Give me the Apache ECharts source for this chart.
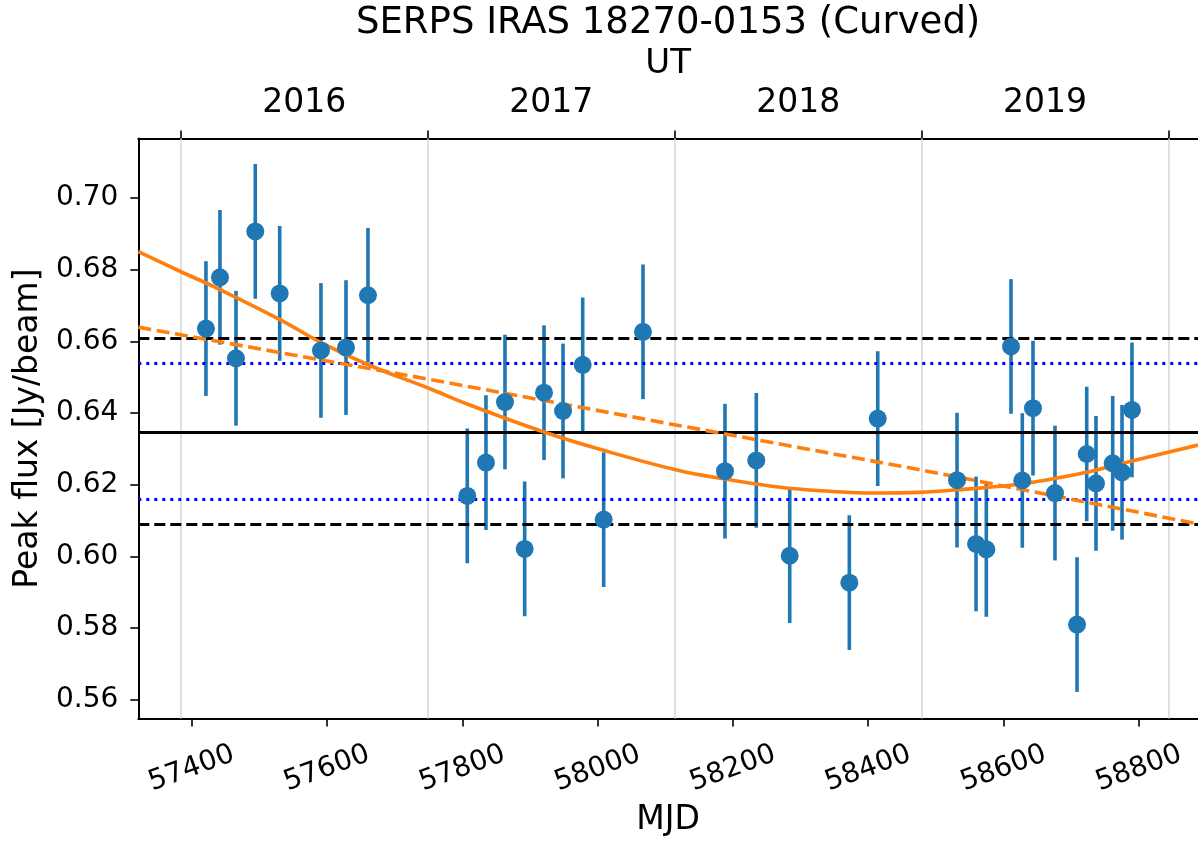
<!DOCTYPE html>
<html>
<head>
<meta charset="utf-8">
<script src="https://cdn.jsdelivr.net/npm/echarts@6/dist/echarts.min.js"></script>
<style>
html,body{margin:0;padding:0;background:#fff;}
#chart{width:1198px;height:842px;}
</style>
</head>
<body>
<div id="chart"></div>
<script>
// ---- data ----
const mjd = [57421.1, 57441.8, 57465.5, 57494.0, 57530.1, 57591.1, 57628.1, 57660.6,
  57807.4, 57835.0, 57863.1, 57892.2, 57920.8, 57948.9, 57978.0, 58009.0, 58067.1,
  58188.3, 58234.6, 58284.0, 58372.1, 58414.1,
  58531.3, 58559.4, 58574.6, 58611.1, 58627.8, 58643.6, 58676.1, 58708.7, 58723.0,
  58736.7, 58761.4, 58775.2, 58789.9];
const flux = [0.6636, 0.6779, 0.6553, 0.6907, 0.6734, 0.6575, 0.6583, 0.6729,
  0.6169, 0.6262, 0.6431, 0.6021, 0.6457, 0.6406, 0.6535, 0.6103, 0.6627,
  0.6238, 0.6268, 0.6002, 0.5927, 0.6385,
  0.6213, 0.6035, 0.6020, 0.6586, 0.6212, 0.6414, 0.6177, 0.5810, 0.6286,
  0.6204, 0.6260, 0.6235, 0.6409];
const fluxErr = [0.0188, 0.0188, 0.0188, 0.0188, 0.0188, 0.0188, 0.0188, 0.0188,
  0.0188, 0.0188, 0.0188, 0.0188, 0.0188, 0.0188, 0.0188, 0.0188, 0.0188,
  0.0188, 0.0188, 0.0188, 0.0188, 0.0188,
  0.0188, 0.0188, 0.0188, 0.0188, 0.0188, 0.0188, 0.0188, 0.0188, 0.0188,
  0.0188, 0.0188, 0.0188, 0.0188];

// curved fit (solid orange)
const curveMjd = [57321.1, 57382.7, 57441.8, 57530.5, 57591.1, 57663.5, 57752.3, 57806.5,
  57919.7, 58003.5, 58121.8, 58188.3, 58269.6, 58343.5, 58407.1, 58476.6, 58531.3,
  58624.4, 58723.0, 58772.2, 58887.5];
const curveFlux = [0.6851, 0.6796, 0.6745, 0.6661, 0.6597, 0.6533, 0.6468, 0.6426,
  0.6348, 0.6299, 0.6239, 0.6216, 0.6193, 0.6182, 0.6177, 0.6179, 0.6186,
  0.6202, 0.6235, 0.6258, 0.6311];

// linear fit (dashed orange)
const linMjd = [57321.1, 57752.3, 58121.8, 58476.6, 58887.5];
const linFlux = [0.6640, 0.6494, 0.6365, 0.6242, 0.6091];

// horizontal reference levels
const meanFlux = 0.6348;
const dottedLevels = [0.6538, 0.6160];
const dashedLevels = [0.6608, 0.6089];

// axes
const xMin = 57321.1, xMax = 58887.5;
const yMin = 0.55478, yMax = 0.71662;
const xTicks = [57400, 57600, 57800, 58000, 58200, 58400, 58600, 58800];
const yTicks = [0.56, 0.58, 0.60, 0.62, 0.64, 0.66, 0.68, 0.70];
const yearBounds = [57384, 57749, 58114, 58479, 58844];
const yearLabels = ['2016', '2017', '2018', '2019'];
const titleText = 'SERPS IRAS 18270-0153 (Curved)';

const yearMids = yearLabels.map((_, i) => (yearBounds[i] + yearBounds[i + 1]) / 2);

const FONT = 'DejaVu Sans';
const chart = echarts.init(document.getElementById('chart'), null, {renderer: 'canvas'});

const GRID = {left: 138.3, right: 0, top: 138.6, bottom: 122};
const plotCenterX = GRID.left + (1198 - GRID.left - GRID.right) / 2;

const option = {
  backgroundColor: '#ffffff',
  animation: false,
  graphic: [{
    type: 'text', x: plotCenterX, y: 23, silent: true,
    style: {text: titleText, fontFamily: FONT, fontSize: 37, fill: '#000',
      textAlign: 'center', textVerticalAlign: 'middle'}
  }],
  grid: {left: GRID.left, right: GRID.right, top: GRID.top, bottom: GRID.bottom, containLabel: false},
  xAxis: [
    {
      type: 'value', position: 'bottom', min: xMin, max: xMax,
      name: 'MJD', nameLocation: 'middle', nameGap: 102,
      nameTextStyle: {fontFamily: FONT, fontSize: 33, color: '#000', verticalAlign: 'middle'},
      axisLine: {show: true, onZero: false, lineStyle: {color: '#000', width: 2}},
      axisTick: {show: true, length: 8, customValues: xTicks, lineStyle: {color: '#000', width: 1.6}},
      axisLabel: {
        customValues: xTicks, rotate: 20, margin: 50, align: 'center', verticalAlign: 'middle',
        fontFamily: FONT, fontSize: 28, color: '#000',
        formatter: v => String(Math.round(v))
      },
      splitLine: {show: false}
    },
    {
      type: 'value', position: 'top', min: xMin, max: xMax,
      name: 'UT', nameLocation: 'middle', nameGap: 74,
      nameTextStyle: {fontFamily: FONT, fontSize: 34, color: '#000', verticalAlign: 'middle'},
      axisLine: {show: true, onZero: false, lineStyle: {color: '#000', width: 2}},
      axisTick: {show: true, length: 8, customValues: yearBounds, lineStyle: {color: '#000', width: 1.6}},
      axisLabel: {
        customValues: yearMids, margin: 35, verticalAlign: 'middle',
        fontFamily: FONT, fontSize: 33, color: '#000',
        formatter: v => {
          let best = 0;
          yearMids.forEach((m, i) => { if (Math.abs(m - v) < Math.abs(yearMids[best] - v)) best = i; });
          return yearLabels[best];
        }
      },
      splitLine: {show: false}
    }
  ],
  yAxis: {
    type: 'value', min: yMin, max: yMax,
    name: 'Peak flux [Jy/beam]', nameLocation: 'middle', nameGap: 110, nameRotate: 90,
    nameTextStyle: {fontFamily: FONT, fontSize: 33, color: '#000', verticalAlign: 'middle'},
    axisLine: {show: true, onZero: false, lineStyle: {color: '#000', width: 2}},
    axisTick: {show: true, length: 8, customValues: yTicks, lineStyle: {color: '#000', width: 1.6}},
    axisLabel: {
      customValues: yTicks, margin: 20,
      fontFamily: FONT, fontSize: 28, color: '#000',
      formatter: v => v.toFixed(2)
    },
    splitLine: {show: false}
  },
  series: [
    // year gridlines
    {
      type: 'line', xAxisIndex: 1, data: [], silent: true, z: 1,
      markLine: {
        silent: true, symbol: ['none', 'none'], animation: false, precision: 6,
        label: {show: false},
        lineStyle: {color: '#d8d8d8', width: 1.6, type: 'solid'},
        data: yearBounds.map(b => ({xAxis: b}))
      }
    },
    // error bars
    {
      type: 'custom', z: 3,
      data: mjd.map((m, i) => [m, flux[i] - fluxErr[i], flux[i] + fluxErr[i]]),
      encode: {x: 0, y: [1, 2]},
      renderItem: (params, api) => {
        const x = api.value(0);
        const p1 = api.coord([x, api.value(1)]);
        const p2 = api.coord([x, api.value(2)]);
        return {
          type: 'line',
          shape: {x1: p1[0], y1: p1[1], x2: p2[0], y2: p2[1]},
          style: {stroke: '#1f77b4', lineWidth: 3.6}
        };
      }
    },
    // horizontal reference lines
    {
      type: 'line', data: [], silent: true, z: 4,
      markLine: {
        silent: true, symbol: ['none', 'none'], animation: false, precision: 6,
        label: {show: false},
        data: [
          {yAxis: meanFlux, lineStyle: {color: '#000', width: 3, type: 'solid'}},
          ...dashedLevels.map(v => ({yAxis: v, lineStyle: {color: '#000', width: 3, type: [11, 5]}})),
          ...dottedLevels.map(v => ({yAxis: v, lineStyle: {color: '#0000ff', width: 3, type: [3, 5]}}))
        ]
      }
    },
    // linear fit
    {
      type: 'line', z: 5, showSymbol: false, smooth: false,
      data: linMjd.map((m, i) => [m, linFlux[i]]),
      lineStyle: {color: '#ff7f0e', width: 3.6, type: [13, 5.6]}
    },
    // curved fit
    {
      type: 'line', z: 5, showSymbol: false, smooth: 0.4,
      data: curveMjd.map((m, i) => [m, curveFlux[i]]),
      lineStyle: {color: '#ff7f0e', width: 3.6, type: 'solid'}
    },
    // markers
    {
      type: 'scatter', z: 6, symbol: 'circle', symbolSize: 18,
      data: mjd.map((m, i) => [m, flux[i]]),
      itemStyle: {color: '#1f77b4', opacity: 1}
    }
  ]
};
chart.setOption(option);
</script>
</body>
</html>
